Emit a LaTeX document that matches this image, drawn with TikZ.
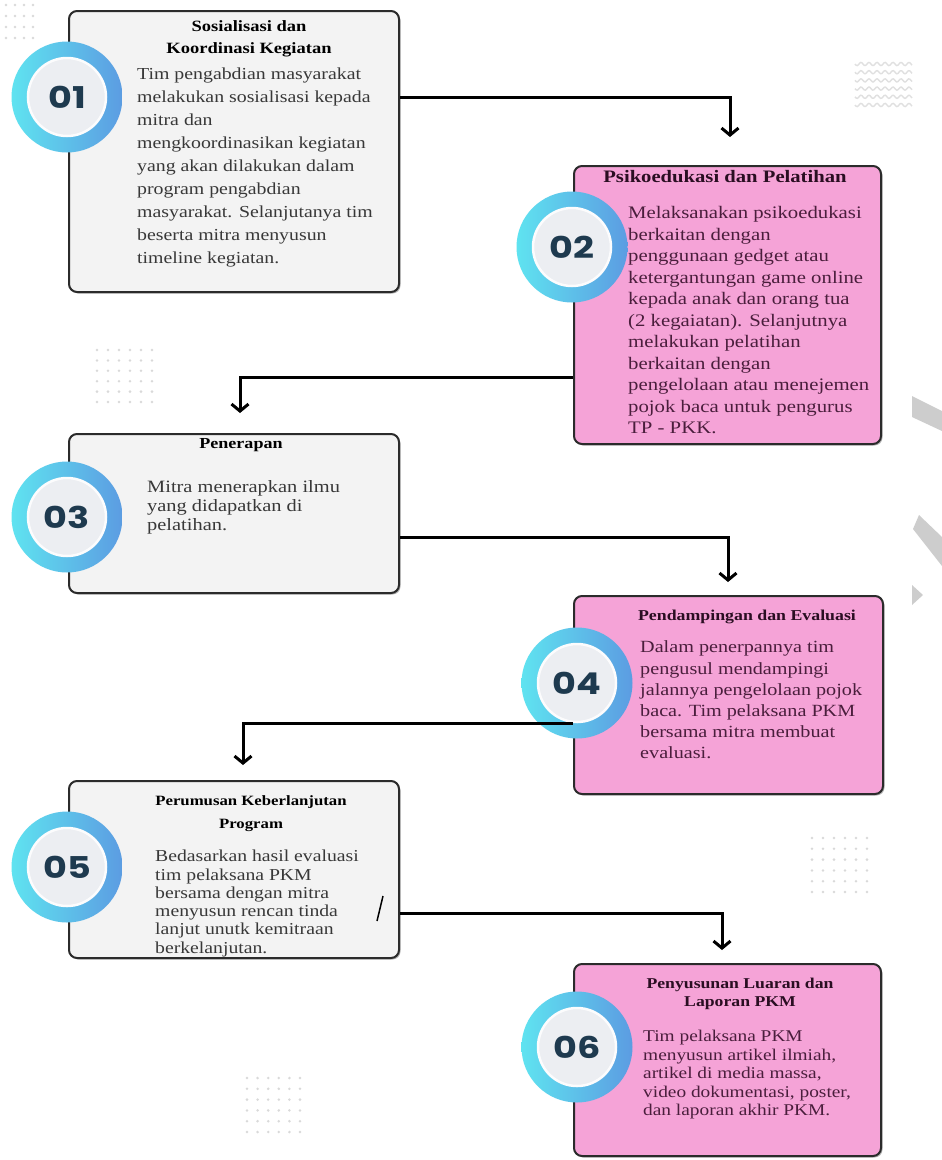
\documentclass[tikz,border=0pt]{standalone}
\usepackage{fontspec}
\setmainfont{Liberation Serif}[FakeStretch=1.18]
\newfontfamily\numfont{Poppins}[FakeStretch=1.22]
\usetikzlibrary{arrows.meta,shadows}
\definecolor{boxedge}{HTML}{2B2B2B}
\definecolor{grayfill}{HTML}{F3F3F3}
\definecolor{pinkfill}{HTML}{F5A3D7}
\definecolor{ringL}{HTML}{5FE3F0}
\definecolor{ringR}{HTML}{5C9CE2}
\definecolor{discfill}{HTML}{ECEEF2}
\definecolor{numc}{HTML}{1E3A4F}
\definecolor{graytxt}{HTML}{383838}
\definecolor{pinktxt}{HTML}{4A1E3C}
\definecolor{pinkttl}{HTML}{2A0E22}
\definecolor{dotc}{HTML}{D9D9D9}
\definecolor{wavec}{HTML}{E0E0E0}
\definecolor{barc}{HTML}{CDCDCD}
\tikzset{
  graybox/.style={draw=boxedge, line width=2pt, rounded corners=8pt, fill=grayfill,
    anchor=north west, inner sep=0pt,
    drop shadow={shadow xshift=1.5pt, shadow yshift=-1.5pt, opacity=.3, fill=black}},
  pinkbox/.style={graybox, fill=pinkfill},
  ring/.style={circle, minimum size=111pt, inner sep=0pt, draw=none,
    left color=ringL, right color=ringR},
  disc/.style={circle, minimum size=78pt, inner sep=0pt, fill=discfill, draw=white!85!discfill,
    line width=2.5pt, text=numc, font=\numfont\bfseries\fontsize{30}{30}\selectfont},
  conn/.style={draw=black, line width=3pt, -{Straight Barb[length=7pt,width=17pt]}},
  ttl/.style={align=center, inner sep=0pt, font=\bfseries},
  bdy/.style={align=left, anchor=west, inner sep=0pt},
}
\begin{document}
\begin{tikzpicture}[x=1pt,y=-1pt]
\useasboundingbox (0,0) rectangle (942,1160);
\fill[white] (0,0) rectangle (942,1160);

% decorative dot grids
\foreach \i in {0,...,3} \foreach \j in {0,...,3}
  \fill[dotc] (6+9*\i, 5+11*\j) circle (1.3);
\foreach \i in {0,...,5} \foreach \j in {0,...,5}
  \fill[dotc] (97+11*\i, 350+10.4*\j) circle (1.4);
\foreach \i in {0,...,5} \foreach \j in {0,...,5}
  \fill[dotc] (812+11*\i, 838+10.8*\j) circle (1.4);
\foreach \i in {0,...,5} \foreach \j in {0,...,5}
  \fill[dotc] (247+10.6*\i, 1078+10.8*\j) circle (1.4);
% wavy pattern
\foreach \k in {0,...,5}
  \draw[wavec, line width=1.4pt] plot[domain=855:912, samples=50]
    (\x, {64+8.2*\k + 1.6*sin((\x-855)*45)});
% gray shapes at the right edge
\fill[barc] (912,396) -- (942,411) -- (942,431) -- (912,417) -- cycle;
\fill[barc] (919,515) -- (942,537) -- (942,566) -- (913,529) -- cycle;
\fill[barc] (912,585) -- (923,595) -- (912,605) -- cycle;

% boxes
\node[graybox, minimum width=330pt, minimum height=281pt] (b1) at (68,10) {};
\node[pinkbox, minimum width=307pt, minimum height=278pt] (b2) at (573,165) {};
\node[graybox, minimum width=330pt, minimum height=159pt] (b3) at (68,433) {};
\node[pinkbox, minimum width=309pt, minimum height=198pt] (b4) at (573,595) {};
\node[graybox, minimum width=330pt, minimum height=177pt] (b5) at (68,780) {};
\node[pinkbox, minimum width=307pt, minimum height=192pt] (b6) at (573,963) {};

% titles
\node[ttl, text=black, font=\bfseries\fontsize{15.7}{21.5}\selectfont] (t1) at (249,39)
  {Sosialisasi dan\\Koordinasi Kegiatan};
\node[ttl, text=pinkttl, font=\bfseries\fontsize{17.5}{21}\selectfont] (t2) at (725,177)
  {Psikoedukasi dan Pelatihan};
\node[ttl, text=black, font=\bfseries\fontsize{15.3}{20}\selectfont] (t3) at (241,445)
  {Penerapan};
\node[ttl, text=pinkttl, font=\bfseries\fontsize{15.1}{20}\selectfont] (t4) at (747,617)
  {Pendampingan dan Evaluasi};
\node[ttl, text=black, font=\bfseries\fontsize{14.2}{22.5}\selectfont] (t5) at (251,813.5)
  {Perumusan Keberlanjutan\\Program};
\node[ttl, text=pinkttl, font=\bfseries\fontsize{15}{18.5}\selectfont] (t6) at (740,994)
  {Penyusunan Luaran dan\\Laporan PKM};

% body texts
\node[bdy, text=graytxt, font=\fontsize{16.8}{23.1}\selectfont] (x1) at (137,167.5)
  {Tim pengabdian masyarakat\\melakukan sosialisasi kepada\\mitra dan\\mengkoordinasikan kegiatan\\yang akan dilakukan dalam\\program pengabdian\\masyarakat. Selanjutanya tim\\beserta mitra menyusun\\timeline kegiatan.};
\node[bdy, text=pinktxt, font=\fontsize{17.6}{21.5}\selectfont] (x2) at (628,320.5)
  {Melaksanakan psikoedukasi\\berkaitan dengan\\penggunaan gedget atau\\ketergantungan game online\\kepada anak dan orang tua\\(2 kegaiatan). Selanjutnya\\melakukan pelatihan\\berkaitan dengan\\pengelolaan atau menejemen\\pojok baca untuk pengurus\\TP - PKK.};
\node[bdy, text=graytxt, font=\fontsize{17.3}{19}\selectfont] (x3) at (147,507)
  {Mitra menerapkan ilmu\\yang didapatkan di\\pelatihan.};
\node[bdy, text=pinktxt, font=\fontsize{17.1}{21.2}\selectfont] (x4) at (640,700)
  {Dalam penerpannya tim\\pengusul mendampingi\\jalannya pengelolaan pojok\\baca. Tim pelaksana PKM\\bersama mitra membuat\\evaluasi.};
\node[bdy, text=graytxt, font=\fontsize{16.7}{18.3}\selectfont] (x5) at (155,903.5)
  {Bedasarkan hasil evaluasi\\tim pelaksana PKM\\bersama dengan mitra\\menyusun rencan tinda\\lanjut unutk kemitraan\\berkelanjutan.};
\node[bdy, text=pinktxt, font=\fontsize{16.4}{18.5}\selectfont] (x6) at (643,1075)
  {Tim pelaksana PKM\\menyusun artikel ilmiah,\\artikel di media massa,\\video dokumentasi, poster,\\dan laporan akhir PKM.};

% stray slash mark in box 5
\draw[black, line width=1.5pt] (377,921) -- (383,896);

% number circles
\foreach \n/\cx/\cy in {1/67/97, 2/572/247, 3/67/517, 4/577/683, 5/67/867, 6/577/1047}{
  \node[ring] (r\n) at (\cx,\cy) {};
  \node[disc] (d\n) at (\cx,\cy) {0\n};
}

% connectors
\coordinate (a1) at (730,137);
\coordinate (a2) at (240,413);
\coordinate (a3) at (728,582);
\coordinate (a4) at (243,765);
\coordinate (a5) at (722,950);
\draw[conn] (b1.east |- r1) -- (a1 |- r1) -- (a1);
\draw[conn] (b2.west |- 0,377) -- (a2 |- 0,377) -- (a2);
\draw[conn] (b3.east |- 0,537) -- (a3 |- 0,537) -- (a3);
\draw[conn] (b4.west |- 0,723) -- (a4 |- 0,723) -- (a4);
\draw[conn] (b5.east |- 0,913) -- (a5 |- 0,913) -- (a5);
\end{tikzpicture}
\end{document}
